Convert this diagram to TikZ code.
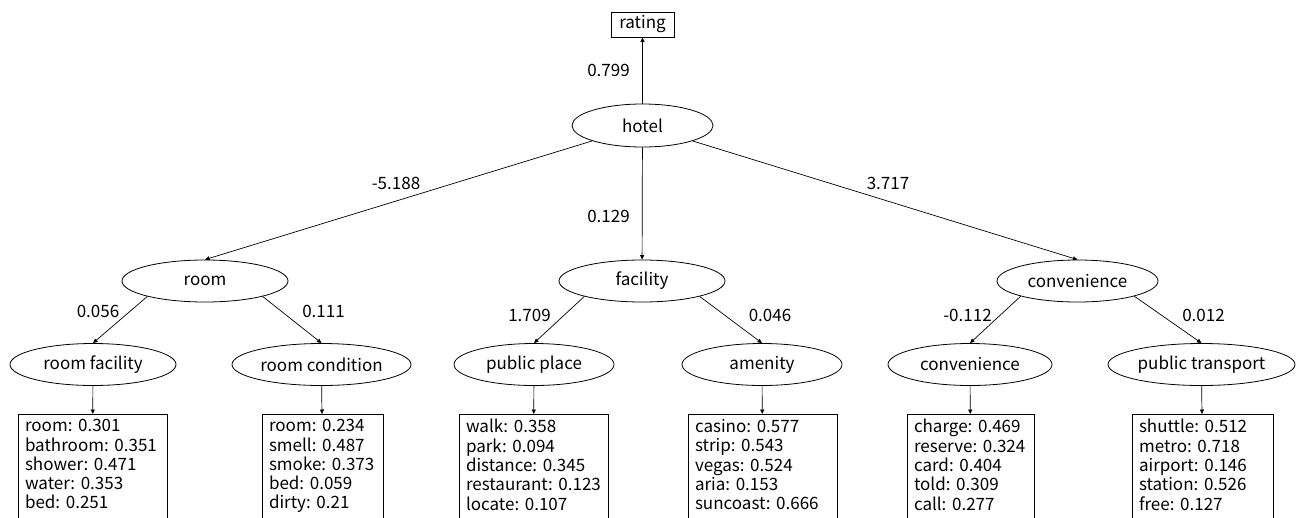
\documentclass[tikz,border=0pt]{standalone}
\usepackage{fontspec}
\setmainfont{Noto Sans CJK JP}
\usetikzlibrary{arrows.meta,shapes.geometric}
\begin{document}
\frenchspacing
\begin{tikzpicture}[x=1pt,y=-1pt,
  every node/.style={font=\fontsize{17}{19.3}\selectfont\frenchspacing, inner sep=0pt},
  ell/.style={draw, ellipse, minimum height=42pt, line width=0.8pt},
  wbox/.style={draw, rectangle, anchor=north, align=left, inner xsep=7pt, inner ysep=5pt, line width=0.8pt},
  arr/.style={-{Triangle[length=4.5pt,width=4pt]}, line width=0.7pt},
]
\useasboundingbox (0,0) rectangle (1296,517);

% nodes
\node[draw, rectangle, minimum width=63pt, minimum height=25pt, line width=0.8pt] (rating) at (642.5,24.5) {rating};
\node[ell, minimum width=141pt, minimum height=43pt] (hotel) at (642.5,125.5) {hotel};

\node[ell, minimum width=166pt] (room) at (205,281) {room};
\node[ell, minimum width=166pt] (facility) at (642,281) {facility};
\node[ell, minimum width=161pt] (conv) at (1077.5,281) {convenience};

\node[ell, minimum width=166pt] (rf) at (93,364.5) {room facility};
\node[ell, minimum width=179pt] (rc) at (321.5,364.5) {room condition};
\node[ell, minimum width=160pt] (pp) at (534,364.5) {public place};
\node[ell, minimum width=160pt] (am) at (762,364.5) {amenity};
\node[ell, minimum width=164pt] (cv) at (970,364.5) {convenience};
\node[ell, minimum width=187pt] (pt) at (1201.5,364.5) {public transport};

\node[wbox, text width=135pt] (b1) at (92.5,414) {room: 0.301\\bathroom: 0.351\\shower: 0.471\\water: 0.353\\bed: 0.251\\ \mbox{}};
\node[wbox, text width=107pt] (b2) at (322.5,414) {room: 0.234\\smell: 0.487\\smoke: 0.373\\bed: 0.059\\dirty: 0.21\\ \mbox{}};
\node[wbox, text width=135pt] (b3) at (533.5,414) {walk: 0.358\\park: 0.094\\distance: 0.345\\restaurant: 0.123\\locate: 0.107\\ \mbox{}};
\node[wbox, text width=135pt] (b4) at (762.5,414) {casino: 0.577\\strip: 0.543\\vegas: 0.524\\aria: 0.153\\suncoast: 0.666\\ \mbox{}};
\node[wbox, text width=113pt] (b5) at (970.5,414) {charge: 0.469\\reserve: 0.324\\card: 0.404\\told: 0.309\\call: 0.277\\ \mbox{}};
\node[wbox, text width=127pt] (b6) at (1202.5,414) {shuttle: 0.512\\metro: 0.718\\airport: 0.146\\station: 0.526\\free: 0.127\\ \mbox{}};

% edges
\draw[arr] (hotel) -- (rating);
\draw[arr] (hotel) -- (room.north);
\draw[arr] (hotel) -- (facility);
\draw[arr] (hotel) -- (conv.north);
\draw[arr] (room.195) -- (rf.north);
\draw[arr] (room.345) -- (rc.north);
\draw[arr] (facility.195) -- (pp.north);
\draw[arr] (facility.345) -- (am.north);
\draw[arr] (conv.195) -- (cv.north);
\draw[arr] (conv.345) -- (pt.north);
\draw[arr] (rf) -- (b1);
\draw[arr] (rc) -- (b2);
\draw[arr] (pp) -- (b3);
\draw[arr] (am) -- (b4);
\draw[arr] (cv) -- (b5);
\draw[arr] (pt) -- (b6);

% labels
\node (l0) at (608.5,70) {0.799};
\node (l1) at (396,183) {-5.188};
\node (l2) at (608.5,216) {0.129};
\node (l3) at (888,183) {3.717};
\node (l4) at (98,311) {0.056};
\node (l5) at (323.5,311) {0.111};
\node (l6) at (529.5,315.5) {1.709};
\node (l7) at (770,315.5) {0.046};
\node (l8) at (967.5,315.5) {-0.112};
\node (l9) at (1203.5,315.5) {0.012};
\end{tikzpicture}
\end{document}
